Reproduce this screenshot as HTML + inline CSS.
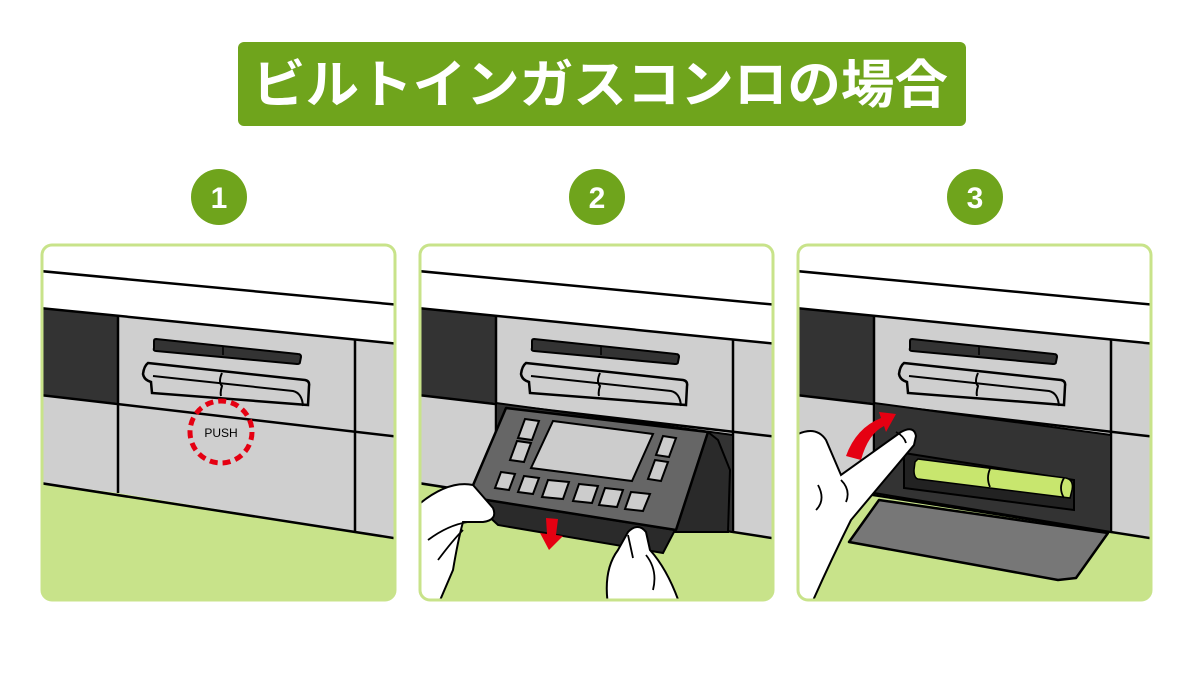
<!DOCTYPE html>
<html><head><meta charset="utf-8"><style>
html,body{margin:0;padding:0;background:#fff;width:1200px;height:675px;overflow:hidden}
</style></head><body>
<svg width="1200" height="675" viewBox="0 0 1200 675" xmlns="http://www.w3.org/2000/svg" font-family="'Liberation Sans','Noto Sans CJK JP',sans-serif">
<defs>
<clipPath id="cp"><rect x="2" y="5" width="353" height="355" rx="10"/></clipPath>
<g id="base">
  <rect x="0" y="0" width="360" height="365" fill="#fff"/>
  <polygon points="0,243 78,253 360,299 360,365 0,365" fill="#c8e38a"/>
  <polygon points="0,68 360,104 360,299 78,253 0,243" fill="#cfcfcf"/>
  <polygon points="0,68 78,76 78,163 0,155" fill="#333"/>
  <g stroke="#000" stroke-width="2.5" fill="none">
    <line x1="0" y1="31" x2="360" y2="65"/>
    <line x1="0" y1="68" x2="360" y2="104"/>
    <line x1="0" y1="155" x2="360" y2="197"/>
    <line x1="0" y1="243" x2="360" y2="299"/>
    <line x1="78" y1="76" x2="78" y2="253"/>
    <line x1="315" y1="100" x2="315" y2="292"/>
  </g>
  <path d="M116,99 L258,114 Q261,114 261,117 L260,122 Q260,124 257,124 L116,111 Q113,111 114,108 L114,101 Q114,99 116,99Z" fill="#333" stroke="#000" stroke-width="2"/>
  <line x1="183" y1="107" x2="183" y2="115" stroke="#000" stroke-width="1.5"/>
  <path d="M108,123 L265,140 Q270,141 269,146 L268,165 L112,153 L111,142 Q104,140 103,134 Q104,126 108,123Z" fill="#cfcfcf" stroke="#000" stroke-width="2.5"/>
  <path d="M113,136 L253,151 Q262,153 263,166 M182,133 Q178,142 182,146 Q180,152 181,156" fill="none" stroke="#000" stroke-width="2"/>
</g>
</defs>

<rect x="238" y="42" width="728" height="84" rx="6" fill="#6fa41c"/>
<text x="252" y="103" fill="#fff" font-size="52" font-weight="bold" textLength="696" lengthAdjust="spacingAndGlyphs">ビルトインガスコンロの場合</text>

<g fill="#6fa41c"><circle cx="219" cy="197" r="28"/><circle cx="597" cy="197" r="28"/><circle cx="975" cy="197" r="28"/></g>
<g fill="#fff" font-size="30" font-weight="bold" text-anchor="middle"><text x="219" y="208">1</text><text x="597" y="208">2</text><text x="975" y="208">3</text></g>

<!-- Panel 1 -->
<g transform="translate(40,240)">
  <g clip-path="url(#cp)"><use href="#base"/>
    <circle cx="181" cy="192" r="31" fill="none" stroke="#e50012" stroke-width="5" stroke-dasharray="8,5"/>
    <text x="181" y="197" text-anchor="middle" font-size="12">PUSH</text>
  </g>
  <rect x="2" y="5" width="353" height="355" rx="10" fill="none" stroke="#c8e38a" stroke-width="3"/>
</g>

<!-- Panel 2 -->
<g transform="translate(418,240)">
  <g clip-path="url(#cp)"><use href="#base"/>
    <polygon points="78,163 315,195 315,292 78,253" fill="#333" stroke="#000" stroke-width="2"/>
    <polygon points="290,192 300,200 312,230 310,292 257,292" fill="#2a2a2a" stroke="#000" stroke-width="2"/>
    <polygon points="50,257 257,290 245,313 80,285" fill="#2a2a2a" stroke="#000" stroke-width="2"/>
    <polygon points="88,168 290,192 258,290 50,257" fill="#666" stroke="#000" stroke-width="2.5" stroke-linejoin="round"/>
    <polygon points="135,181 235,194 214,241 113,228" fill="#ccc" stroke="#000" stroke-width="2"/>
    <g fill="#ccc" stroke="#000" stroke-width="2">
      <polygon points="107,179 121,181 114,200 100,198"/>
      <polygon points="99,201 113,203 106,222 92,220"/>
      <polygon points="245,196 258,198 251,217 238,215"/>
      <polygon points="237,220 250,222 243,241 230,239"/>
      <polygon points="83,232 97,234 91,250 77,248"/>
      <polygon points="106,236 121,238 115,254 100,252"/>
      <polygon points="130,240 151,242 145,259 124,257"/>
      <polygon points="161,244 180,246 174,263 155,261"/>
      <polygon points="187,248 205,250 199,267 181,265"/>
      <polygon points="213,252 232,254 225,271 207,269"/>
    </g>
    <polygon points="128,278 140,279 138,295 145,296 131,310 122,293 129,294" fill="#e50012"/>
    <path d="M0,265 Q30,240 55,245 L75,268 Q80,280 65,282 L45,282 Q40,300 35,330 L20,365 L0,365Z" fill="#fff" stroke="#000" stroke-width="2"/>
    <path d="M10,300 Q30,285 50,282 M20,320 Q35,300 45,290" fill="none" stroke="#000" stroke-width="1.8"/>
    <path d="M190,365 Q185,330 200,310 L210,292 Q220,282 228,292 L232,310 Q250,330 262,365Z" fill="#fff" stroke="#000" stroke-width="2"/>
    <path d="M210,295 L215,318 M228,315 Q240,330 235,350" fill="none" stroke="#000" stroke-width="1.8"/>
  </g>
  <rect x="2" y="5" width="353" height="355" rx="10" fill="none" stroke="#c8e38a" stroke-width="3"/>
</g>

<!-- Panel 3 -->
<g transform="translate(796,240)">
  <g clip-path="url(#cp)"><use href="#base"/>
    <polygon points="78,163 315,195 315,292 78,253" fill="#333" stroke="#000" stroke-width="2"/>
    <polygon points="83,260 312,293 280,338 262,340 53,302" fill="#777" stroke="#000" stroke-width="2.5" stroke-linejoin="round"/>
    <polygon points="108,213 278,240 278,270 108,248" fill="#222" stroke="#000" stroke-width="2"/>
    <path d="M122,219 L270,238 Q278,240 276,250 L274,258 L122,239 Q118,238 118,230 L119,222Z" fill="#c8e66e" stroke="#000" stroke-width="1.5"/>
    <path d="M194,229 Q190,238 194,247 M268,238 Q262,248 268,258" fill="none" stroke="#000" stroke-width="1.8"/>
    <path d="M50,216 Q60,188 85,178 L83,172 L100,174 L90,192 L88,186 Q72,194 65,220Z" fill="#e50012"/>
    <path d="M0,195 Q20,185 30,200 L45,235 L105,192 Q118,185 120,196 L118,205 L55,280 Q35,320 15,365 L0,365Z" fill="#fff" stroke="#000" stroke-width="2"/>
    <path d="M22,245 Q30,260 20,270 M45,240 Q55,250 50,262 M100,192 Q108,196 110,203" fill="none" stroke="#000" stroke-width="1.8"/>
  </g>
  <rect x="2" y="5" width="353" height="355" rx="10" fill="none" stroke="#c8e38a" stroke-width="3"/>
</g>
</svg>
</body></html>
